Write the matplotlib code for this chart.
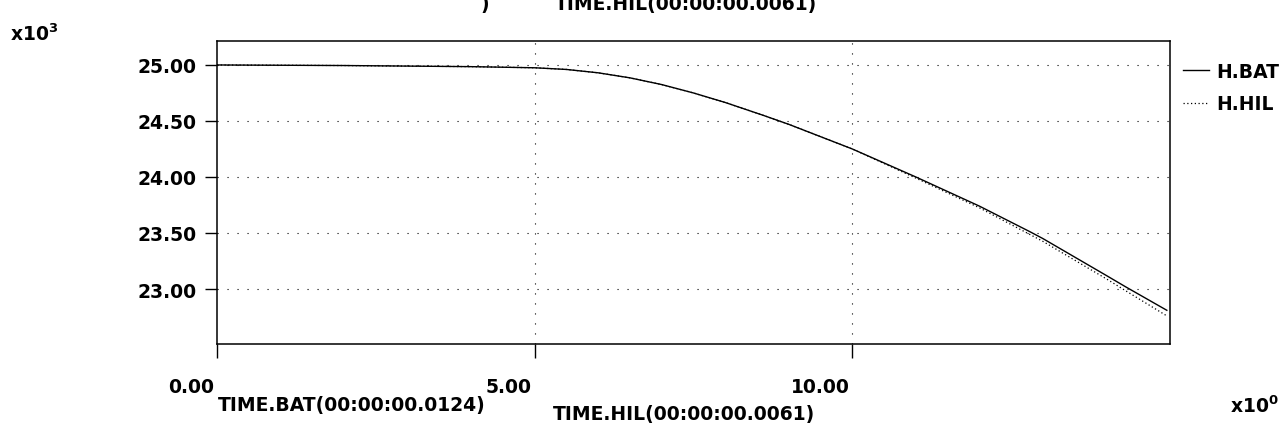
import matplotlib
matplotlib.use("Agg")
import matplotlib.pyplot as plt
from matplotlib.transforms import ScaledTranslation

# --- data (x in units of 10^0 s, y in units of 10^3) ---
time_bat = [0, 2, 4, 4.5, 5, 5.5, 6, 6.5, 7, 7.5, 8, 8.6, 9, 10, 11, 12, 12.8, 13, 14, 14.3, 14.95]
h_bat = [25.00, 24.995, 24.985, 24.98, 24.975, 24.96, 24.93, 24.885, 24.825, 24.75, 24.665,
         24.55, 24.47, 24.25, 24.00, 23.74, 23.51, 23.45, 23.12, 23.02, 22.81]

time_hil = [0, 2, 4, 4.5, 5, 5.5, 6, 6.5, 7, 7.5, 8, 8.6, 9, 10, 11, 12, 12.8, 13, 14, 14.3, 14.95]
h_hil = [25.00, 24.995, 24.985, 24.98, 24.975, 24.96, 24.93, 24.885, 24.825, 24.75, 24.665,
         24.55, 24.47, 24.25, 23.99, 23.725, 23.485, 23.425, 23.09, 22.985, 22.76]

x_ticks = [0, 5, 10]
x_tick_labels = ["0.00", "5.00", "10.00"]
y_ticks = [25.0, 24.5, 24.0, 23.5, 23.0]
y_tick_labels = ["25.00", "24.50", "24.00", "23.50", "23.00"]

plt.rcParams["font.family"] = ["DejaVu Sans"]
plt.rcParams["font.weight"] = "bold"
plt.rcParams["mathtext.fontset"] = "custom"
plt.rcParams["mathtext.rm"] = "DejaVu Sans:bold"
plt.rcParams["mathtext.bf"] = "DejaVu Sans:bold"

FS = 13.5
W, H = 1286, 439
fig = plt.figure(figsize=(W / 100, H / 100), dpi=100)

def fx(px):
    return px / W

def fy(py):
    return 1 - py / H

# axes box in pixels
left, right, top, bottom = 217, 1170, 42, 345
ax = fig.add_axes([fx(left), fy(bottom), fx(right) - fx(left), fy(top) - fy(bottom)])

ax.plot(time_bat, h_bat, color="black", lw=1.0, label="H.BAT")
ax.plot(time_hil, h_hil, color="black", lw=0.9, linestyle=(0, (1, 2)), label="H.HIL")

ax.set_xlim(0, 15.0)
ax.set_ylim(22.509, 25.214)

# sparse dotted grid
grid_style = dict(color="black", lw=0.8, linestyle=(0, (1, 8)), zorder=0)
for yv in y_ticks:
    ax.axhline(yv, **grid_style)
for xv in x_ticks[1:]:
    ax.axvline(xv, **grid_style)

for sp in ax.spines.values():
    sp.set_linewidth(1.1)

ax.set_xticks(x_ticks)
ax.set_xticklabels(x_tick_labels)
ax.set_yticks(y_ticks)
ax.set_yticklabels(y_tick_labels)
ax.tick_params(axis="y", direction="out", length=9, width=1.0, pad=6, labelsize=FS)
ax.tick_params(axis="x", direction="out", length=10, width=1.0, pad=14, labelsize=FS)
for lab in ax.get_xticklabels():
    lab.set_ha("right")
    lab.set_transform(lab.get_transform() + ScaledTranslation(-3 / 100, 0, fig.dpi_scale_trans))

# legend outside on the right
ax.legend(loc="upper left", bbox_to_anchor=(fx(1183), fy(63)), bbox_transform=fig.transFigure,
          frameon=False, handlelength=1.4, handletextpad=0.4, labelspacing=0.7,
          borderpad=0, borderaxespad=0, prop={"size": FS, "weight": "bold"})

# scale markers and axis captions
fig.text(fx(10), fy(41), r"x10$^{3}$", fontsize=FS, va="baseline", ha="left")
fig.text(fx(1230), fy(413), r"x10$^{0}$", fontsize=FS, va="baseline", ha="left")
fig.text(fx(218), fy(411), "TIME.BAT(00:00:00.0124)", fontsize=FS, va="baseline", ha="left")
fig.text(fx(553), fy(420), "TIME.HIL(00:00:00.0061)", fontsize=FS, va="baseline", ha="left")

# title, cut off at the top edge of the page
fig.text(fx(480), fy(10), ")", fontsize=FS, va="baseline", ha="left")
fig.text(fx(555), fy(10), "TIME.HIL(00:00:00.0061)", fontsize=FS, va="baseline", ha="left")

fig.savefig("out.png", dpi=100)
